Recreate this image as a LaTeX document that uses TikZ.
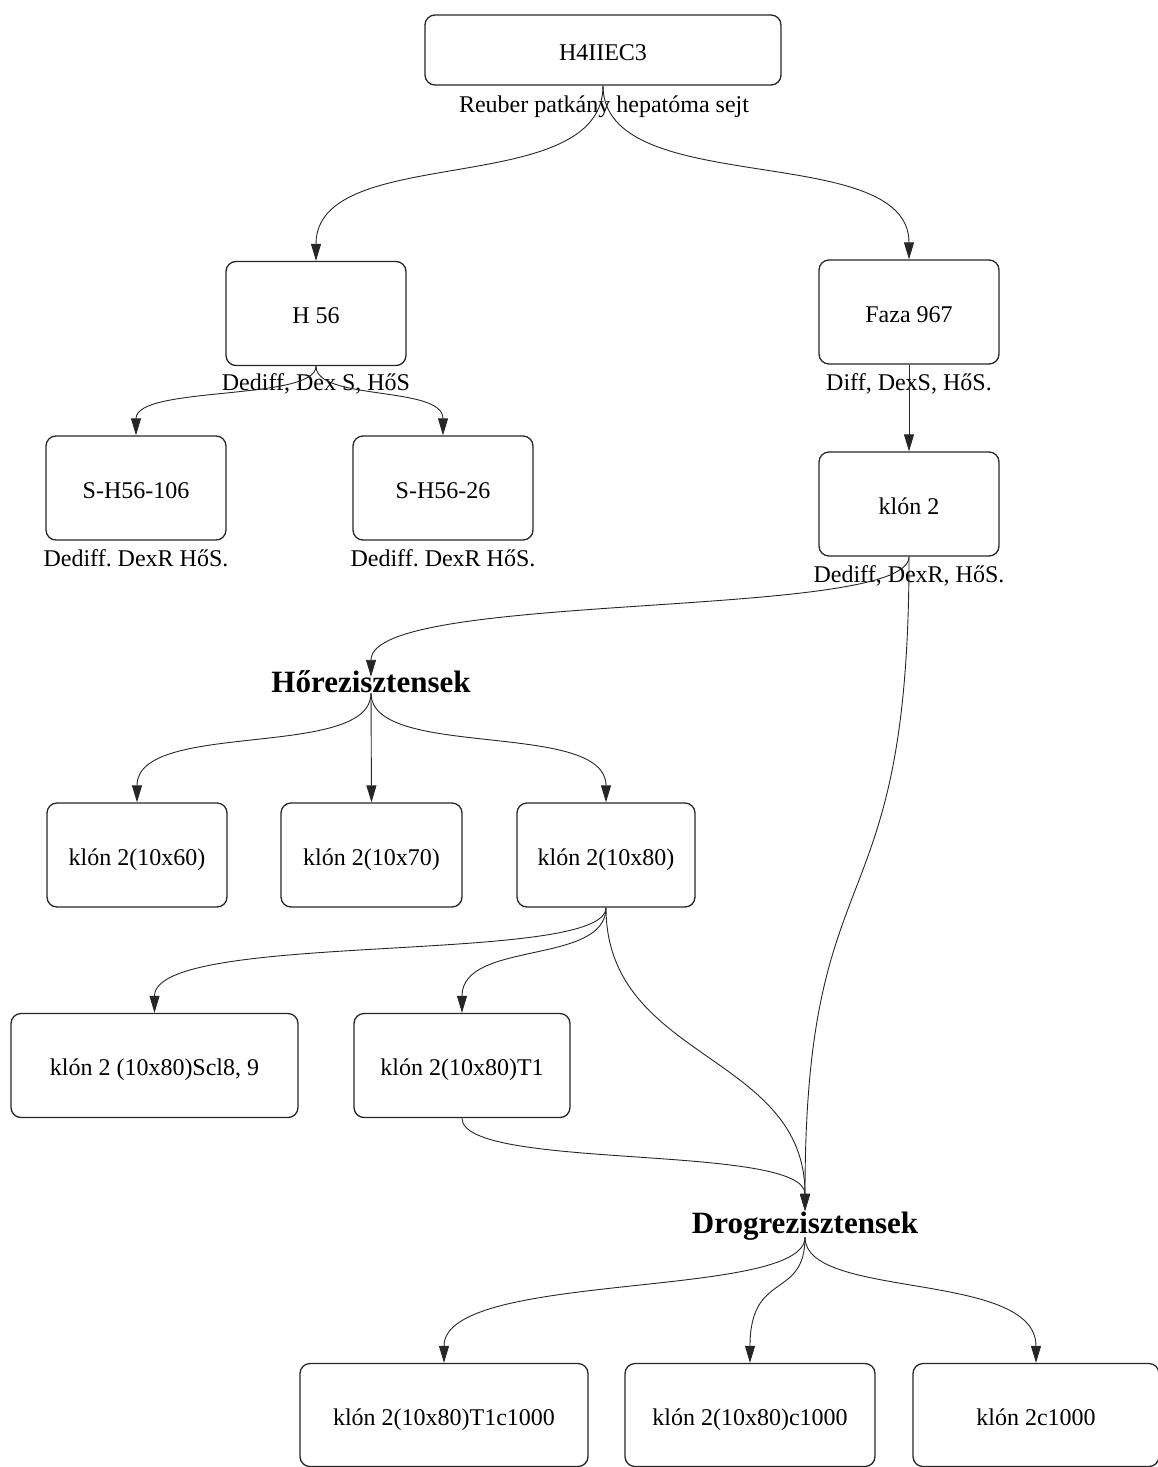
\documentclass[tikz,border=0pt]{standalone}
\usepackage{fontspec}
\setmainfont{Liberation Serif}
\usetikzlibrary{arrows.meta}
\frenchspacing
\begin{document}
\begin{tikzpicture}[x=1pt,y=-1pt,
  box/.style={draw=black!85, line width=1.3pt, rounded corners=10pt, font=\fontsize{24}{28}\selectfont,
    text height=22pt, text depth=2pt, inner sep=0pt, minimum height=104pt},
  lab/.style={font=\fontsize{24}{28}\selectfont, anchor=base, inner sep=0pt},
  head/.style={font=\bfseries\fontsize{31}{36}\selectfont, inner sep=0pt, anchor=base},
  edge/.style={draw=black!85, line width=0.9pt, -{Triangle[length=17pt,width=10pt]}}]
\useasboundingbox (0,0) rectangle (1158,1467);

% boxes
\node[box, minimum width=356pt, minimum height=70pt] (h4) at (603,50) {H4IIEC3};
\node[box, minimum width=180pt] (h56) at (316,313.5) {H 56};
\node[box, minimum width=180pt] (faza) at (909,312) {Faza 967};
\node[box, minimum width=180pt] (s106) at (136,488) {S-H56-106};
\node[box, minimum width=180pt] (s26) at (443,488) {S-H56-26};
\node[box, minimum width=180pt] (k2) at (909,504) {klón 2};
\node[box, minimum width=180pt] (k60) at (137,855) {klón 2(10x60)};
\node[box, minimum width=181pt] (k70) at (371.5,855) {klón 2(10x70)};
\node[box, minimum width=178pt] (k80) at (606,855) {klón 2(10x80)};
\node[box, minimum width=287pt] (scl) at (154.5,1065.5) {klón 2 (10x80)Scl8, 9};
\node[box, minimum width=216pt] (t1) at (462,1065.5) {klón 2(10x80)T1};
\node[box, minimum width=288pt, minimum height=103pt] (t1c) at (444,1415) {klón 2(10x80)T1c1000};
\node[box, minimum width=250pt, minimum height=103pt] (c1000) at (750,1415) {klón 2(10x80)c1000};
\node[box, minimum width=246pt, minimum height=103pt] (k2c) at (1036,1415) {klón 2c1000};

% labels under boxes
\node[lab] (lh4) at (604,112) {Reuber patkány hepatóma sejt};
\node[lab] (lh56) at (316,390) {Dediff, Dex S, HőS};
\node[lab] (lfaza) at (909,390) {Diff, DexS, HőS.};
\node[lab] (ls106) at (136,566) {Dediff. DexR HőS.};
\node[lab] (ls26) at (443,566) {Dediff. DexR HőS.};
\node[lab] (lk2) at (909,582) {Dediff, DexR, HőS.};

% headings
\node[head, text height=15pt, text depth=1pt] (hr) at (371,692) {Hőrezisztensek};
\node[head, text height=22pt, text depth=4pt] (dr) at (805,1233) {Drogrezisztensek};

% edges
\draw[edge] (h4.south) .. controls +(0,115) and +(0,-120) .. (h56.north);
\draw[edge] (h4.south) .. controls +(0,115) and +(0,-120) .. (faza.north);
\draw[edge] (h56.south) .. controls +(0,35) and +(0,-50) .. (s106.north);
\draw[edge] (h56.south) .. controls +(0,35) and +(0,-50) .. (s26.north);
\draw[edge] (faza.south) -- (k2.north);
\draw[edge] (k2.south) .. controls +(0,64) and +(0,-87) .. (hr.north);
\draw[edge] (k2.south) .. controls +(0,380) and +(0,-370) .. (dr.north);
\draw[edge] (hr.south) .. controls +(0,67) and +(0,-83) .. (k60.north);
\draw[edge] (hr.south) -- (k70.north);
\draw[edge] (hr.south) .. controls +(0,67) and +(0,-83) .. (k80.north);
\draw[edge] (k80.south) .. controls +(0,58) and +(0,-83) .. (scl.north);
\draw[edge] (k80.south) .. controls +(0,58) and +(0,-73) .. (t1.north);
\draw[edge] (k80.south) .. controls +(0,153) and +(0,-158) .. (dr.north);
\draw[edge] (t1.south) .. controls +(0,53) and +(0,-68) .. (dr.north);
\draw[edge] (dr.south) .. controls +(0,63) and +(0,-93) .. (t1c.north);
\draw[edge] (dr.south) .. controls +(0,63) and +(0,-93) .. (c1000.north);
\draw[edge] (dr.south) .. controls +(0,63) and +(0,-93) .. (k2c.north);
\end{tikzpicture}
\end{document}
